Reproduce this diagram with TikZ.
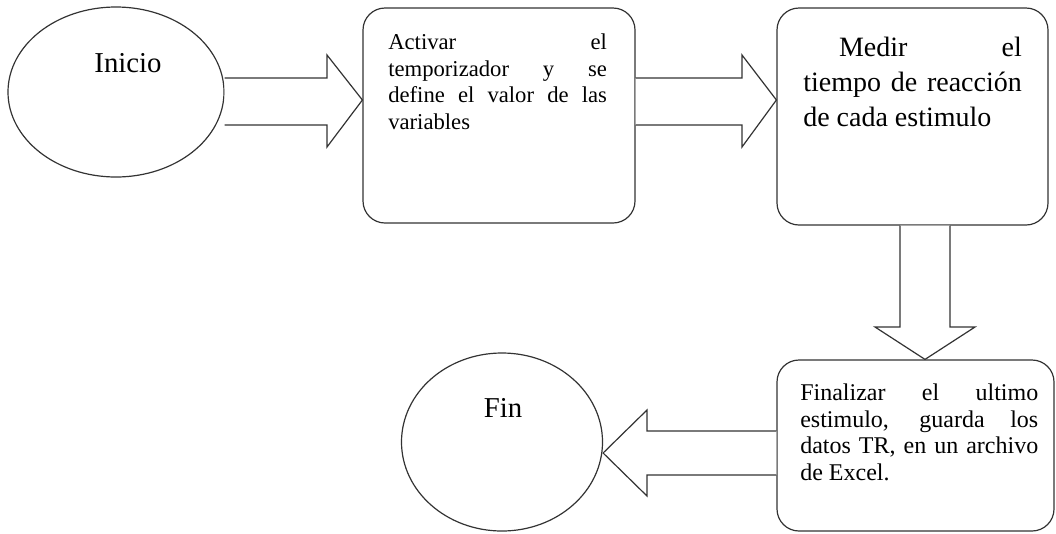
\documentclass[tikz,border=0pt]{standalone}
\usepackage{graphicx}
\usepackage{fontspec}
\setmainfont{Liberation Serif}
\newfontfamily\tnr{Liberation Serif}
\usetikzlibrary{shapes.geometric}
\begin{document}
\begin{tikzpicture}[x=0.75pt,y=-0.75pt,
  line/.style={draw=black!80, line width=0.9pt},
  oval/.style={line, ellipse, inner sep=0pt},
  stepbox/.style={line, rectangle, rounded corners=16.5pt, inner sep=0pt},
  barrow/.style={line, line join=miter, fill=white},
  boxtext/.style={inner sep=0pt, anchor=north west},
  ovaltext/.style={inner sep=0pt, anchor=base, font={\tnr\fontsize{18}{20}\selectfont}}
]
\useasboundingbox (0,0) rectangle (1056,533);

% shapes
\node[oval, minimum width=162pt, minimum height=127.5pt] (inicio) at (116,92) {};
\node[oval, minimum width=150.75pt, minimum height=133.5pt] (fin) at (502,442) {};
\node[stepbox, minimum width=204pt, minimum height=161.25pt] (b1) at (499,115.5) {};
\node[stepbox, minimum width=203.25pt, minimum height=162.75pt] (b2) at (912.5,116.5) {};
\node[stepbox, minimum width=207.75pt, minimum height=128.25pt] (b3) at (915.5,445.5) {};

% texts
\node[ovaltext] (tinicio) at (128,72) {\scalebox{1.2}{Inicio}};
\node[ovaltext] (tfin) at (503,417) {\scalebox{1.2}{Fin}};
\node[boxtext] (t1) at (388,34)
  {\parbox[t]{164pt}{\tnr\fontsize{17}{19.8}\selectfont
   Activar el\linebreak temporizador y se\linebreak define el valor de las\linebreak variables}};
\node[boxtext] (t2) at (803,36.5)
  {\scalebox{1.1667}{\parbox[t]{140.5pt}{\tnr\fontsize{18}{22.5}\selectfont
   \hspace*{23pt}Medir el\linebreak tiempo de reacción\linebreak de cada estimulo}}};
\node[boxtext] (t3) at (800,383.5)
  {\parbox[t]{178.5pt}{\tnr\fontsize{18}{20}\selectfont
   Finalizar el ultimo\linebreak estimulo, guarda los\linebreak datos TR, en un archivo\linebreak de Excel.}};

% helper coordinates for arrow geometry
\coordinate (y78) at (0,78);
\coordinate (y100) at (0,100);
\coordinate (y125) at (0,125);
\coordinate (x925) at (925,0);
\coordinate (y431) at (0,431);
\coordinate (y453) at (0,453);
\coordinate (y475) at (0,475);

% block arrows
\draw[barrow] (inicio.east |- y78) -- (327,78) -- (327,55) -- (b1.west |- y100)
  -- (327,147) -- (327,125) -- (inicio.east |- y125);
\draw[barrow] (b1.east |- y78) -- (742,78) -- (742,55) -- (b2.west |- y100)
  -- (742,147) -- (742,125) -- (b1.east |- y125);
\draw[barrow] (900,0 |- b2.south) -- (900,327) -- (875,327) -- (x925 |- b3.north)
  -- (975,327) -- (950,327) -- (950,0 |- b2.south);
\draw[barrow] (b3.west |- y431) -- (647,431) -- (647,410) -- (fin.east |- y453)
  -- (647,496) -- (647,475) -- (b3.west |- y475);
\end{tikzpicture}
\end{document}
